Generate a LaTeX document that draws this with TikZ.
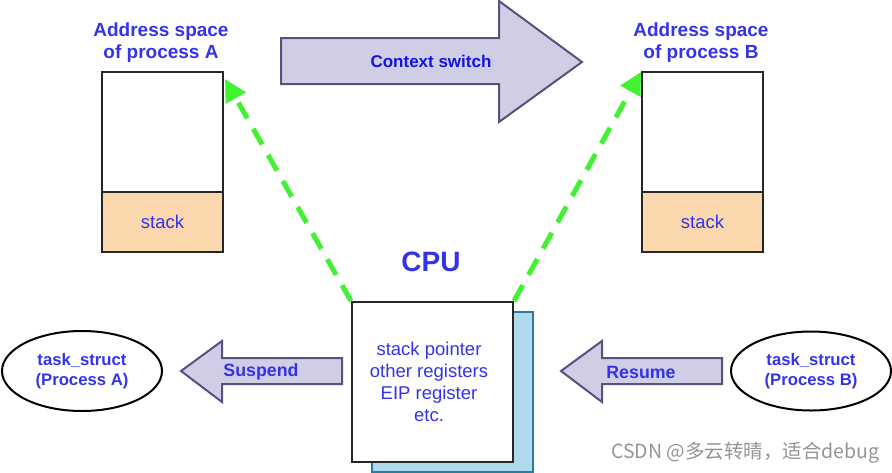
\documentclass[tikz,border=0pt]{standalone}
\usepackage{fontspec}
\setmainfont{Liberation Sans}
\newfontfamily\cjkfont{Noto Sans CJK SC}
\usetikzlibrary{arrows.meta,shapes.geometric}
\definecolor{txtblue}{RGB}{51,51,235}
\definecolor{ctxblue}{RGB}{20,20,225}
\definecolor{arrfill}{RGB}{208,206,228}
\definecolor{arrdraw}{RGB}{90,80,128}
\definecolor{stackfill}{RGB}{250,215,172}
\definecolor{cpuback}{RGB}{174,218,236}
\definecolor{cpubackdraw}{RGB}{40,125,160}
\definecolor{dashgreen}{RGB}{64,242,50}
\tikzset{
  membox/.style={draw=black!85, line width=2pt, fill=white},
  stackbox/.style={draw=black!85, line width=2pt, fill=stackfill},
  blockarrow/.style={draw=arrdraw, line width=2pt, fill=arrfill, line join=miter},
  boldlbl/.style={text=txtblue, font=\fontsize{17.5}{21}\selectfont\bfseries, align=center},
  reglbl/.style={text=txtblue, font=\fontsize{18.5}{22}\selectfont, align=center},
  taskell/.style={draw=black, line width=2pt, ellipse, minimum width=160pt, minimum height=80pt, inner sep=0pt},
  greenarrow/.style={draw=dashgreen, line width=5pt, dash pattern=on 18pt off 12pt, -{Triangle[length=22pt,width=22pt]}}
}
\begin{document}
\begin{tikzpicture}[x=1pt,y=-1pt]
\useasboundingbox (0,0) rectangle (892,472);
% Address space A
\node[membox, minimum width=121pt, minimum height=120pt, inner sep=0pt, anchor=north west] (memA) at (101,71) {};
\node[stackbox, minimum width=121pt, minimum height=60pt, inner sep=0pt, anchor=north west, reglbl] (stackA) at (101,191) {stack};
\node[boldlbl, font=\fontsize{19}{22}\selectfont\bfseries] (titleA) at (161,43) {Address space\\of process A};
% Address space B
\node[membox, minimum width=121pt, minimum height=120pt, inner sep=0pt, anchor=north west] (memB) at (641,71) {};
\node[stackbox, minimum width=121pt, minimum height=60pt, inner sep=0pt, anchor=north west, reglbl] (stackB) at (641,191) {stack};
\node[boldlbl, font=\fontsize{19}{22}\selectfont\bfseries] (titleB) at (701,43) {Address space\\of process B};
% Context switch arrow
\draw[blockarrow] (281,38) -- (499,38) -- (499,1) -- (582,62) -- (499,122) -- (499,84) -- (281,84) -- cycle;
\node[boldlbl, text=ctxblue, font=\fontsize{17}{20}\selectfont\bfseries] (ctx) at (431,61) {Context switch};
% CPU
\node[draw=cpubackdraw, line width=2pt, fill=cpuback, minimum width=161pt, minimum height=160pt, inner sep=0pt, anchor=north west] (cpuback) at (371,311) {};
\node[membox, minimum width=161pt, minimum height=160pt, inner sep=0pt, anchor=north west] (cpu) at (351,301) {};
\node[reglbl] (regs) at (429,382) {stack pointer\\other registers\\ EIP register\\etc.};
\node[text=txtblue, font=\fontsize{28}{32}\selectfont\bfseries] (cpulbl) at (431,262) {CPU};
% green arrows
\coordinate (tipA) at (225,79);
\coordinate (tipB) at (641,72);
\draw[greenarrow] (cpu.north west) -- (tipA);
\draw[greenarrow] (cpu.north east) -- (tipB);
% Suspend arrow
\draw[blockarrow] (342,358) -- (222,358) -- (222,341) -- (181,371) -- (222,402) -- (222,384) -- (342,384) -- cycle;
\node[boldlbl, font=\fontsize{17.8}{21}\selectfont\bfseries] (susp) at (261,372) {Suspend};
% Resume arrow
\draw[blockarrow] (722,358) -- (602,358) -- (602,341) -- (561,371) -- (602,402) -- (602,384) -- (722,384) -- cycle;
\node[boldlbl, font=\fontsize{17.8}{21}\selectfont\bfseries] (res) at (641,372) {Resume};
% task structs
\node[taskell, boldlbl, font=\fontsize{16.7}{20}\selectfont\bfseries] (taskA) at (82,371) {\raisebox{0pt}[\height][\depth]{}task\_struct\\(Process A)};
\node[taskell, boldlbl, font=\fontsize{16.7}{20}\selectfont\bfseries, minimum height=79pt] (taskB) at (811,371) {task\_struct\\(Process B)};
% watermark
\node[text=black!42, font=\cjkfont\fontsize{19.5}{21}\selectfont, anchor=west, inner sep=0pt] (wm) at (611,453) {CSDN @多云转晴，适合debug};
\end{tikzpicture}
\end{document}
